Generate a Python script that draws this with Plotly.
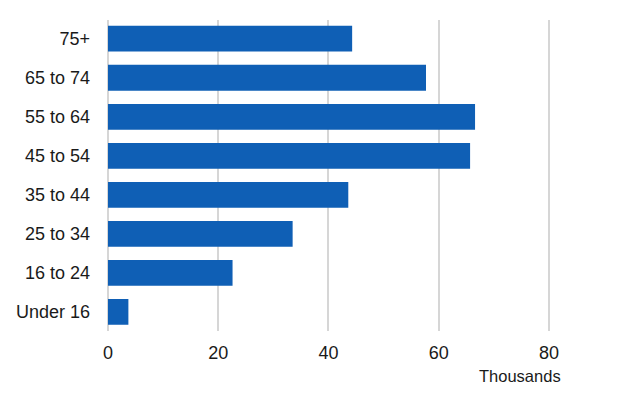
import plotly.graph_objects as go

categories = ["Under 16", "16 to 24", "25 to 34", "35 to 44", "45 to 54", "55 to 64", "65 to 74", "75+"]
values = [3.7, 22.6, 33.5, 43.6, 65.7, 66.6, 57.7, 44.3]
x_ticks = [0, 20, 40, 60, 80]
x_unit_label = "Thousands"

BAR = "#0f5fb5"
GRID = "#d6d6d6"
TEXT = "#1a1a1a"
FONT = "Liberation Sans, Arial, sans-serif"

# the page body has an 8px default margin, so the figure is sized to fit inside it
fig = go.Figure(
    go.Bar(
        y=categories,
        x=values,
        orientation="h",
        marker=dict(color=BAR, line=dict(width=0)),
        hoverinfo="x+y",
    )
)

fig.update_layout(
    width=604,
    height=385,
    margin=dict(l=100, r=62, t=12, b=62),
    paper_bgcolor="white",
    plot_bgcolor="white",
    bargap=0.34,
    showlegend=False,
    font=dict(family=FONT, size=18, color=TEXT),
    xaxis=dict(
        range=[0, 80.2],
        tickvals=x_ticks,
        showgrid=True,
        gridcolor=GRID,
        gridwidth=1.5,
        zeroline=True,
        zerolinecolor=GRID,
        zerolinewidth=1.5,
        showline=False,
        ticks="",
        ticklabelstandoff=9,
        tickfont=dict(family=FONT, size=18, color=TEXT),
        automargin=False,
        fixedrange=True,
    ),
    yaxis=dict(
        type="category",
        categoryorder="array",
        categoryarray=categories,
        range=[-0.49, 7.48],
        showgrid=False,
        zeroline=False,
        showline=False,
        ticks="",
        ticklabelstandoff=17,
        tickfont=dict(family=FONT, size=18, color=TEXT),
        automargin=False,
        fixedrange=True,
    ),
    annotations=[
        dict(
            text=x_unit_label,
            xref="paper",
            yref="paper",
            x=1.03,
            y=-0.146,
            xanchor="right",
            yanchor="middle",
            showarrow=False,
            font=dict(family=FONT, size=16.5, color=TEXT),
        )
    ],
)

fig.write_html("out.html")
